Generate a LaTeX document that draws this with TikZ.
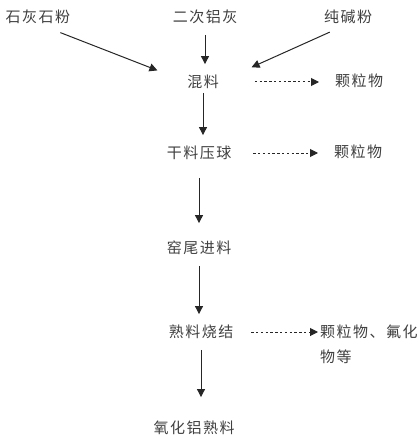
\documentclass[tikz,border=0pt]{standalone}
\usepackage{fontspec}
\usepackage{tikz}
\usetikzlibrary{arrows.meta}
\newfontfamily\cjk[LetterSpace=10]{Noto Sans CJK SC}

\begin{document}
\begin{tikzpicture}[
    x=0.5pt, y={(0pt,-0.5pt)},
    font=\cjk\fontsize{7.5}{12.5}\selectfont\color{black!75},
    lbl/.style={inner xsep=0pt, inner ysep=0pt, outer sep=0pt, align=left},
    arr/.style={-{Triangle[length=4pt,width=4pt]}, line width=0.5pt, black!85,
        shorten <=5.5pt, shorten >=5.5pt},
    dasharr/.style={arr, dash pattern=on 1.2pt off 1.2pt}
]
\useasboundingbox (0,0) rectangle (417,444);
\node[lbl] (lime)   at (38,17)  {石灰石粉};
\node[lbl] (alum)   at (205,17) {二次铝灰};
\node[lbl] (soda)   at (348,17) {纯碱粉};
\node[lbl] (mix)    at (203,82) {混料};
\node[lbl] (dust1)  at (359,81) {颗粒物};
\node[lbl] (dry)    at (199,153) {干料压球};
\node[lbl] (dust2)  at (358,152) {颗粒物};
\node[lbl] (kiln)   at (199,248) {窑尾进料};
\node[lbl] (sinter) at (201,332) {熟料烧结};
\node[lbl, anchor=north west] (dust3) at (320,325) {颗粒物、氟化\\物等};
\node[lbl] (clinker) at (194,428) {氧化铝熟料};

\draw[arr, shorten <=12pt, shorten >=16pt] (lime.south) -- (mix.west);
\draw[arr] (alum) -- (alum |- mix.north);
\draw[arr, shorten <=10pt, shorten >=18pt] (soda.south) -- (mix.east);
\draw[dasharr, shorten <=18pt, shorten >=8pt] (mix) -- (mix -| dust1.west);
\draw[arr, shorten <=2pt] (mix) -- (mix |- dry.north);
\draw[dasharr, shorten <=11pt, shorten >=8pt] (dry) -- (dry -| dust2.west);
\draw[arr, shorten <=9pt, shorten >=9pt] (dry) -- (dry |- kiln.north);
\draw[arr] (kiln) -- (kiln |- sinter.north);
\draw[dasharr, shorten <=9pt, shorten >=1pt] (sinter) -- (sinter -| dust3.west);
\draw[arr, shorten >=12pt] (sinter) -- (sinter |- clinker.north);
\end{tikzpicture}
\end{document}
